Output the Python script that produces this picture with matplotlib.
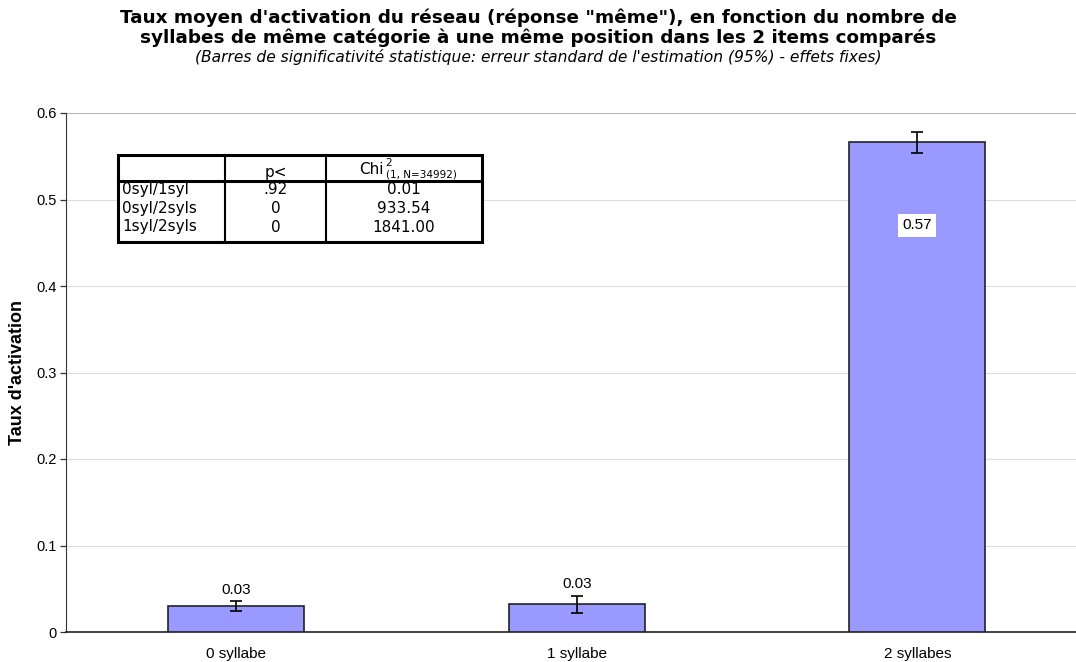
import numpy as np
import matplotlib
matplotlib.use('Agg')
import matplotlib.pyplot as plt
from matplotlib.patches import Rectangle
from matplotlib.lines import Line2D

categories = ['0 syllabe', '1 syllabe', '2 syllabes']
values = [0.030, 0.032, 0.566]
errors = [0.006, 0.010, 0.012]
value_labels = ['0.03', '0.03', '0.57']
yticks = [0, 0.1, 0.2, 0.3, 0.4, 0.5, 0.6]
ytick_labels = ['0', '0.1', '0.2', '0.3', '0.4', '0.5', '0.6']

table_p_header = 'p<'
table_chi_header = ['Chi', '2', '(1, N=34992)']
table_rows = ['0syl/1syl', '0syl/2syls', '1syl/2syls']
table_p = ['.92', '0', '0']
table_chi = ['0.01', '933.54', '1841.00']

W, H = 1076, 662
fig = plt.figure(figsize=(W / 100, H / 100), dpi=100)
ax = fig.add_axes([66 / W, 30 / H, 1 - 66 / W, (632 - 113) / H])

x = np.arange(len(categories))
ax.bar(x, values, width=0.4, color='#9999FF', edgecolor='#222222', linewidth=1.2, zorder=3)
ax.errorbar(x, values, yerr=errors, fmt='none', ecolor='black', elinewidth=1.2,
            capsize=4, capthick=1.2, zorder=4)

for i in range(len(categories)):
    if values[i] < 0.3:
        ax.text(x[i], values[i] + errors[i] + 0.005, value_labels[i], ha='center', va='bottom',
                fontsize=11, family='Liberation Sans', zorder=5)
    else:
        ax.text(x[i], 0.47, value_labels[i], ha='center', va='center', fontsize=11,
                family='Liberation Sans', zorder=5,
                bbox=dict(facecolor='white', edgecolor='none', pad=3))

ax.set_xlim(-0.5, (1076 - 66) / 340.5 - 0.5)
ax.set_ylim(0, 0.6)
ax.set_yticks(yticks)
ax.set_yticklabels(ytick_labels, family='Liberation Sans', fontsize=10.5)
ax.set_xticks(x)
ax.set_xticklabels(categories, family='Liberation Sans', fontsize=11)
ax.tick_params(axis='x', length=0, pad=11)
ax.tick_params(axis='y', length=4, width=0.9, color='#333333', pad=3)
ax.yaxis.grid(True, color='#dddddd', linewidth=0.8, zorder=0)
ax.set_axisbelow(True)
for s in ['top', 'right']:
    ax.spines[s].set_visible(False)
ax.spines['left'].set_color('#333333')
ax.spines['bottom'].set_color('#222222')
ax.spines['bottom'].set_linewidth(1.2)
ax.axhline(0.6, color='#aaaaaa', linewidth=1.2, zorder=1)
ax.set_ylabel("Taux d'activation", family='Liberation Sans', fontweight='bold',
              fontsize=13, labelpad=7)

# titles
fig.text(0.5, 1 - 28 / H, "Taux moyen d'activation du réseau (réponse \"même\"), en fonction du nombre de\n"
         "syllabes de même catégorie à une même position dans les 2 items comparés",
         ha='center', va='center', fontsize=13.2, fontweight='bold', linespacing=1.1)
fig.text(0.5, 1 - 57 / H,
         "(Barres de significativité statistique: erreur standard de l'estimation (95%) - effets fixes)",
         ha='center', va='center', fontsize=11.2, style='italic')


# table in pixel coordinates (top-left origin)
def fx(px):
    return px / W


def fy(py):
    return 1 - py / H


left, right, top, bottom = 118, 482, 155, 242
col1, col2, head = 225, 326, 181
fig.add_artist(Rectangle((fx(left), fy(bottom)), fx(right - left), (bottom - top) / H,
                         transform=fig.transFigure, facecolor='white', edgecolor='black',
                         linewidth=2.2, zorder=10))
for cx in [col1, col2]:
    fig.add_artist(Line2D([fx(cx), fx(cx)], [fy(top), fy(bottom)], transform=fig.transFigure,
                          color='black', linewidth=1.5, zorder=11))
fig.add_artist(Line2D([fx(left), fx(right)], [fy(head), fy(head)], transform=fig.transFigure,
                      color='black', linewidth=2.2, zorder=11))

fig.text(fx((col1 + col2) / 2), fy(172), table_p_header, ha='center', va='center',
         fontsize=11, zorder=12)
fig.text(fx(384), fy(174), table_chi_header[0], ha='right', va='baseline', fontsize=11, zorder=12)
fig.text(fx(385), fy(166), table_chi_header[1], ha='left', va='baseline', fontsize=7.5, zorder=12)
fig.text(fx(386), fy(177), table_chi_header[2], ha='left', va='baseline', fontsize=7.5, zorder=12)
row_y = [190, 208, 227]
for i in range(len(table_rows)):
    fig.text(fx(left + 4), fy(row_y[i]), table_rows[i], ha='left', va='center', fontsize=11, zorder=12)
    fig.text(fx((col1 + col2) / 2), fy(row_y[i]), table_p[i], ha='center', va='center',
             fontsize=11, zorder=12)
    fig.text(fx((col2 + right) / 2), fy(row_y[i]), table_chi[i], ha='center', va='center',
             fontsize=11, zorder=12)

plt.savefig('out.png', dpi=100)
plt.close(fig)
